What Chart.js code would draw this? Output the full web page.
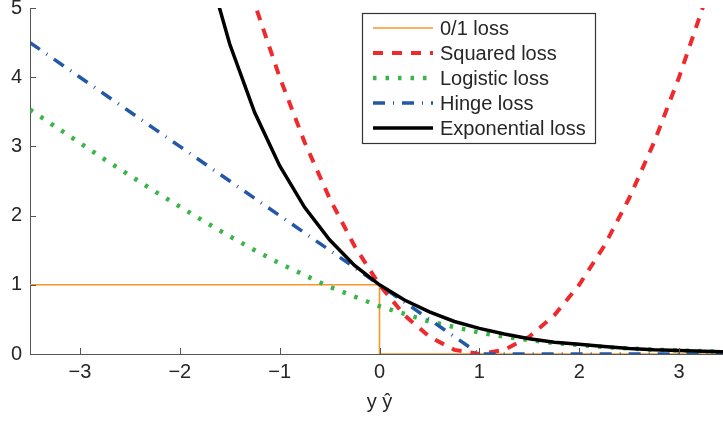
<!DOCTYPE html>
<html>
<head>
<meta charset="utf-8">
<script src="https://cdn.jsdelivr.net/npm/chart.js@4"></script>
<style>
  html, body { margin: 0; padding: 0; background: #fff; overflow: hidden; }
  #wrap { width: 740px; height: 422px; }
</style>
</head>
<body>
<div id="wrap"><canvas id="lossChart"></canvas></div>
<script>
const margins = [-3.5, -3.25, -3, -2.75, -2.5, -2.25, -2, -1.75, -1.5, -1.25, -1, -0.75, -0.5, -0.25,
  0, 0.25, 0.5, 0.75, 1, 1.25, 1.5, 1.75, 2, 2.25, 2.5, 2.75, 3, 3.25, 3.5];

const zeroOneX = [-3.5, 0, 0, 3.5];
const zeroOneLoss = [1, 1, 0, 0];

const squaredLoss = [20.25, 18.06, 16, 14.06, 12.25, 10.56, 9, 7.56, 6.25, 5.06, 4, 3.06, 2.25, 1.56,
  1, 0.56, 0.25, 0.06, 0, 0.06, 0.25, 0.56, 1, 1.56, 2.25, 3.06, 4, 5.06, 6.25];

const logisticLoss = [3.53, 3.29, 3.05, 2.81, 2.58, 2.35, 2.13, 1.91, 1.70, 1.50, 1.31, 1.14, 0.97, 0.83,
  0.69, 0.58, 0.47, 0.39, 0.31, 0.25, 0.20, 0.16, 0.13, 0.10, 0.08, 0.06, 0.05, 0.04, 0.03];

const hingeLoss = [4.5, 4.25, 4, 3.75, 3.5, 3.25, 3, 2.75, 2.5, 2.25, 2, 1.75, 1.5, 1.25,
  1, 0.75, 0.5, 0.25, 0, 0, 0, 0, 0, 0, 0, 0, 0, 0, 0];

const expLoss = [33.12, 25.79, 20.09, 15.64, 12.18, 9.49, 7.39, 5.75, 4.48, 3.49, 2.72, 2.12, 1.65, 1.28,
  1, 0.78, 0.61, 0.47, 0.37, 0.29, 0.22, 0.17, 0.14, 0.11, 0.08, 0.06, 0.05, 0.04, 0.03];

const xTicks = [-3, -2, -1, 0, 1, 2, 3];
const yTicks = [0, 1, 2, 3, 4, 5];
const seriesNames = ["0/1 loss", "Squared loss", "Logistic loss", "Hinge loss", "Exponential loss"];

const FONT = "'Liberation Sans', Arial, Helvetica, sans-serif";
const AXIS_COLOR = "#555555";
const TEXT_COLOR = "#262626";

function toPoints(xs, ys) {
  return xs.map((x, i) => ({ x: x, y: ys[i] }));
}

// inward tick marks, like the original plotting package
const innerTicks = {
  id: "innerTicks",
  afterDraw(chart) {
    const ctx = chart.ctx;
    const area = chart.chartArea;
    const xs = chart.scales.x, ys = chart.scales.y;
    ctx.save();
    ctx.strokeStyle = AXIS_COLOR;
    ctx.lineWidth = 1;
    ctx.beginPath();
    xTicks.forEach((v) => {
      const px = Math.round(xs.getPixelForValue(v)) + 0.5;
      ctx.moveTo(px, area.bottom);
      ctx.lineTo(px, area.bottom - 6);
    });
    yTicks.forEach((v) => {
      const py = Math.round(ys.getPixelForValue(v)) + 0.5;
      ctx.moveTo(area.left, py);
      ctx.lineTo(area.left + 6, py);
    });
    ctx.stroke();
    ctx.restore();
  },
};

// boxed legend inside the plot
const boxLegend = {
  id: "boxLegend",
  afterDraw(chart) {
    const ctx = chart.ctx;
    const left = 362, top = 13, width = 233, height = 130;
    ctx.save();
    ctx.fillStyle = "#ffffff";
    ctx.fillRect(left, top, width, height);
    ctx.strokeStyle = "#333333";
    ctx.lineWidth = 1.2;
    ctx.strokeRect(left + 0.5, top + 0.5, width, height);

    chart.data.datasets.forEach((ds, i) => {
      const y = top + 15 + i * 25;
      ctx.beginPath();
      ctx.strokeStyle = ds.borderColor;
      ctx.lineWidth = ds.borderWidth;
      ctx.setLineDash(ds.borderDash || []);
      ctx.moveTo(373, y);
      ctx.lineTo(433, y);
      ctx.stroke();
      ctx.setLineDash([]);
      ctx.fillStyle = TEXT_COLOR;
      ctx.font = "20px " + FONT;
      ctx.textBaseline = "middle";
      ctx.fillText(ds.label, 440, y + 1);
    });
    ctx.restore();
  },
};

const ctx = document.getElementById("lossChart").getContext("2d");
new Chart(ctx, {
  type: "scatter",
  data: {
    datasets: [
      {
        label: seriesNames[0],
        data: toPoints(zeroOneX, zeroOneLoss),
        borderColor: "#f7962b",
        borderWidth: 1.6,
        order: 4,
      },
      {
        label: seriesNames[1],
        data: toPoints(margins, squaredLoss),
        borderColor: "#ee2a2e",
        borderWidth: 4,
        borderDash: [10, 9],
        order: 3,
      },
      {
        label: seriesNames[2],
        data: toPoints(margins, logisticLoss),
        borderColor: "#3bb54a",
        borderWidth: 4.5,
        borderDash: [3.5, 9],
        order: 2,
      },
      {
        label: seriesNames[3],
        data: toPoints(margins, hingeLoss),
        borderColor: "#2358a6",
        borderWidth: 3.5,
        borderDash: [12, 8, 1, 8],
        order: 1,
      },
      {
        label: seriesNames[4],
        data: toPoints(margins, expLoss),
        borderColor: "#000000",
        borderWidth: 3.5,
        order: 0,
      },
    ].map((ds) => Object.assign(ds, { showLine: true, pointRadius: 0, fill: false, tension: 0 })),
  },
  options: {
    responsive: true,
    maintainAspectRatio: false,
    animation: false,
    layout: { padding: { top: 8, right: 11, left: 0, bottom: 0 } },
    plugins: { legend: { display: false }, tooltip: { enabled: false } },
    scales: {
      x: {
        type: "linear",
        min: -3.5,
        max: 3.5,
        afterBuildTicks: (scale) => { scale.ticks = xTicks.map((v) => ({ value: v })); },
        afterFit: (scale) => { scale.height = 68; scale.paddingRight = 0; },
        grid: { drawOnChartArea: false, drawTicks: false },
        border: { color: AXIS_COLOR, width: 1 },
        ticks: {
          color: TEXT_COLOR,
          font: { family: FONT, size: 20 },
          padding: 6,
          maxRotation: 0,
          callback: (v) => (v < 0 ? "\u2212" + Math.abs(v) : String(v)),
        },
        title: {
          display: true,
          text: "y \u0177",
          color: TEXT_COLOR,
          font: { family: FONT, size: 20 },
          padding: { top: 0, bottom: 8 },
        },
      },
      y: {
        min: 0,
        max: 5,
        afterBuildTicks: (scale) => { scale.ticks = yTicks.map((v) => ({ value: v })); },
        afterFit: (scale) => { scale.width = 30; scale.paddingTop = 0; scale.paddingBottom = 0; },
        grid: { drawOnChartArea: false, drawTicks: false },
        border: { color: AXIS_COLOR, width: 1 },
        ticks: {
          color: TEXT_COLOR,
          font: { family: FONT, size: 20 },
          padding: 8,
        },
      },
    },
  },
  plugins: [innerTicks, boxLegend],
});
</script>
</body>
</html>
